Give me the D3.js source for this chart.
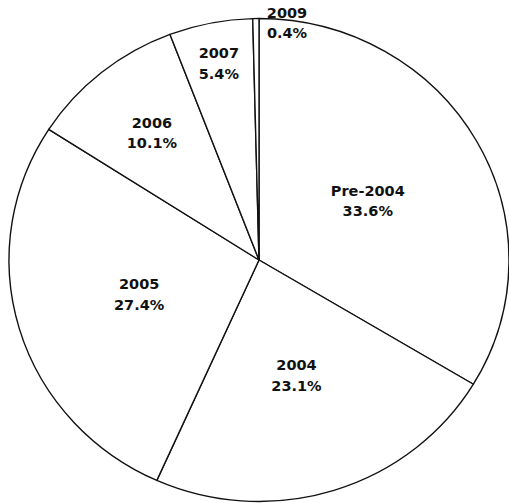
<!DOCTYPE html>
<html>
<head>
<meta charset="utf-8">
<script src="https://cdn.jsdelivr.net/npm/d3@7/dist/d3.min.js"></script>
<style>
  html, body { margin: 0; padding: 0; background: #fff; }
  svg { display: block; }
  .lbl { font-family: "DejaVu Sans", Verdana, sans-serif; font-weight: bold; font-size: 14.5px; fill: #111; }
</style>
</head>
<body>
<svg id="chart" width="509" height="503"></svg>
<script>
// Share of items by year
const categories = ["Pre-2004", "2004", "2005", "2006", "2007", "2009"];
const shares = [33.6, 23.1, 27.4, 10.1, 5.4, 0.4];

// Label placement: distance from centre as a fraction of the radius,
// and an optional angle override (degrees, clockwise from 12 o'clock)
const labelRadius = [0.50, 0.50, 0.50, 0.68, 0.83, 0.99];
const labelAngle = [null, null, null, null, null, 6.5];

const width = 509, height = 503;
const cx = 259, cy = 260, radius = 250, squash = 0.966;

const svg = d3.select("#chart");
const g = svg.append("g").attr("transform", `translate(${cx},${cy})`);

const data = categories.map((c, i) => ({ name: c, value: shares[i], idx: i }));

const pie = d3.pie().value(d => d.value).sort(null).startAngle(0).endAngle(2 * Math.PI);
const arcs = pie(data);
const arc = d3.arc().innerRadius(0).outerRadius(radius);

// Slightly flattened disc
g.append("g")
  .attr("transform", `scale(1,${squash})`)
  .selectAll("path")
  .data(arcs)
  .join("path")
  .attr("d", arc)
  .attr("fill", "#fff")
  .attr("stroke", "#111")
  .attr("stroke-width", 1.4)
  .attr("stroke-linejoin", "round")
  .attr("vector-effect", "non-scaling-stroke");

// Two-line labels: category and percentage
const lineGap = 20.5, capMid = 5.3;
const labels = g.append("g");
arcs.forEach((a, i) => {
  const ang = labelAngle[i] !== null ? labelAngle[i] * Math.PI / 180 : (a.startAngle + a.endAngle) / 2;
  const r = radius * labelRadius[i];
  const x = Math.sin(ang) * r;
  const y = -Math.cos(ang) * r * squash;
  labels.append("text").attr("class", "lbl")
    .attr("text-anchor", "middle")
    .attr("x", x).attr("y", y - lineGap / 2 + capMid)
    .text(a.data.name);
  labels.append("text").attr("class", "lbl")
    .attr("text-anchor", "middle")
    .attr("x", x).attr("y", y + lineGap / 2 + capMid)
    .text(a.data.value.toFixed(1) + "%");
});
</script>
</body>
</html>
